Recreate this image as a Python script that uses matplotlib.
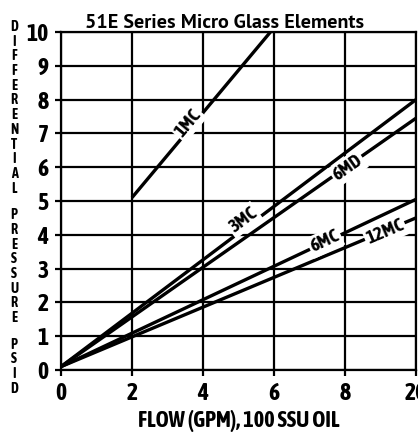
import matplotlib
matplotlib.use('agg')
import matplotlib.pyplot as plt

COND = ['Asap Condensed', 'DejaVu Sans']
TITLE_FONT = ['PT Sans', 'Open Sans', 'DejaVu Sans']
plt.rcParams['font.family'] = COND
plt.rcParams['font.weight'] = 'bold'

# flow (gpm) vs differential pressure (psid)
flow_1mc = [2, 5.9]
dp_1mc = [5.1, 10]
flow_3mc = [0, 10]
dp_3mc = [0.1, 8.0]
flow_6md = [0, 10]
dp_6md = [0.1, 7.45]
flow_6mc = [0, 10]
dp_6mc = [0.1, 5.05]
flow_12mc = [0, 10]
dp_12mc = [0.1, 4.5]

# label name, x, y, angle
labels = [("1MC", 3.58, 7.3, 50),
          ("3MC", 5.13, 4.44, 37),
          ("6MD", 8.08, 5.98, 35),
          ("6MC", 7.44, 3.8, 25),
          ("12MC", 9.13, 4.08, 23)]

x_ticks = [0, 2, 4, 6, 8, 10]
x_tick_labels = ["0", "2", "4", "6", "8", "20"]
y_ticks = list(range(0, 11))

fig = plt.figure(figsize=(4.18, 4.32), dpi=100)
ax = fig.add_axes([61/418, 62/432, 355/418, 338/432])

for fx, dp in [(flow_1mc, dp_1mc), (flow_3mc, dp_3mc), (flow_6md, dp_6md),
               (flow_6mc, dp_6mc), (flow_12mc, dp_12mc)]:
    ax.plot(fx, dp, color="black", lw=2.4, solid_capstyle="butt", zorder=3)

for name, lx, ly, ang in labels:
    ax.text(lx, ly, name, rotation=ang, ha="center", va="center",
            fontsize=13.5, fontweight="bold", zorder=5, rotation_mode="anchor",
            bbox=dict(facecolor="white", edgecolor="none", pad=1.5))

ax.set_xlim(0, 10)
ax.set_ylim(0, 10)
ax.set_xticks(x_ticks)
ax.set_xticklabels(x_tick_labels)
ax.set_yticks(y_ticks)
ax.grid(True, color="black", lw=1.6, zorder=1)
ax.set_axisbelow(True)
for s in ax.spines.values():
    s.set_linewidth(1.6)
ax.tick_params(axis="both", length=4, width=1.6, labelsize=17, pad=5)
for t in ax.get_xticklabels() + ax.get_yticklabels():
    t.set_fontweight("bold")

ax.set_title("51E Series Micro Glass Elements", fontsize=14.5, fontweight="bold",
             family=TITLE_FONT, pad=3, x=0.46)
ax.set_xlabel("FLOW (GPM), 100 SSU OIL", fontsize=16, fontweight="bold", labelpad=3)

# stacked y label letters
ylabel_words = ["DIFFERENTIAL", "PRESSURE", "PSID"]
step = 14.7
y = 432 - 27
for w in ylabel_words:
    for ch in w:
        fig.text(14/418, y/432, ch, ha="center", va="center", fontsize=10,
                 fontweight="bold")
        y -= step
    y -= 0.8 * step

fig.savefig("out.png", dpi=100)
